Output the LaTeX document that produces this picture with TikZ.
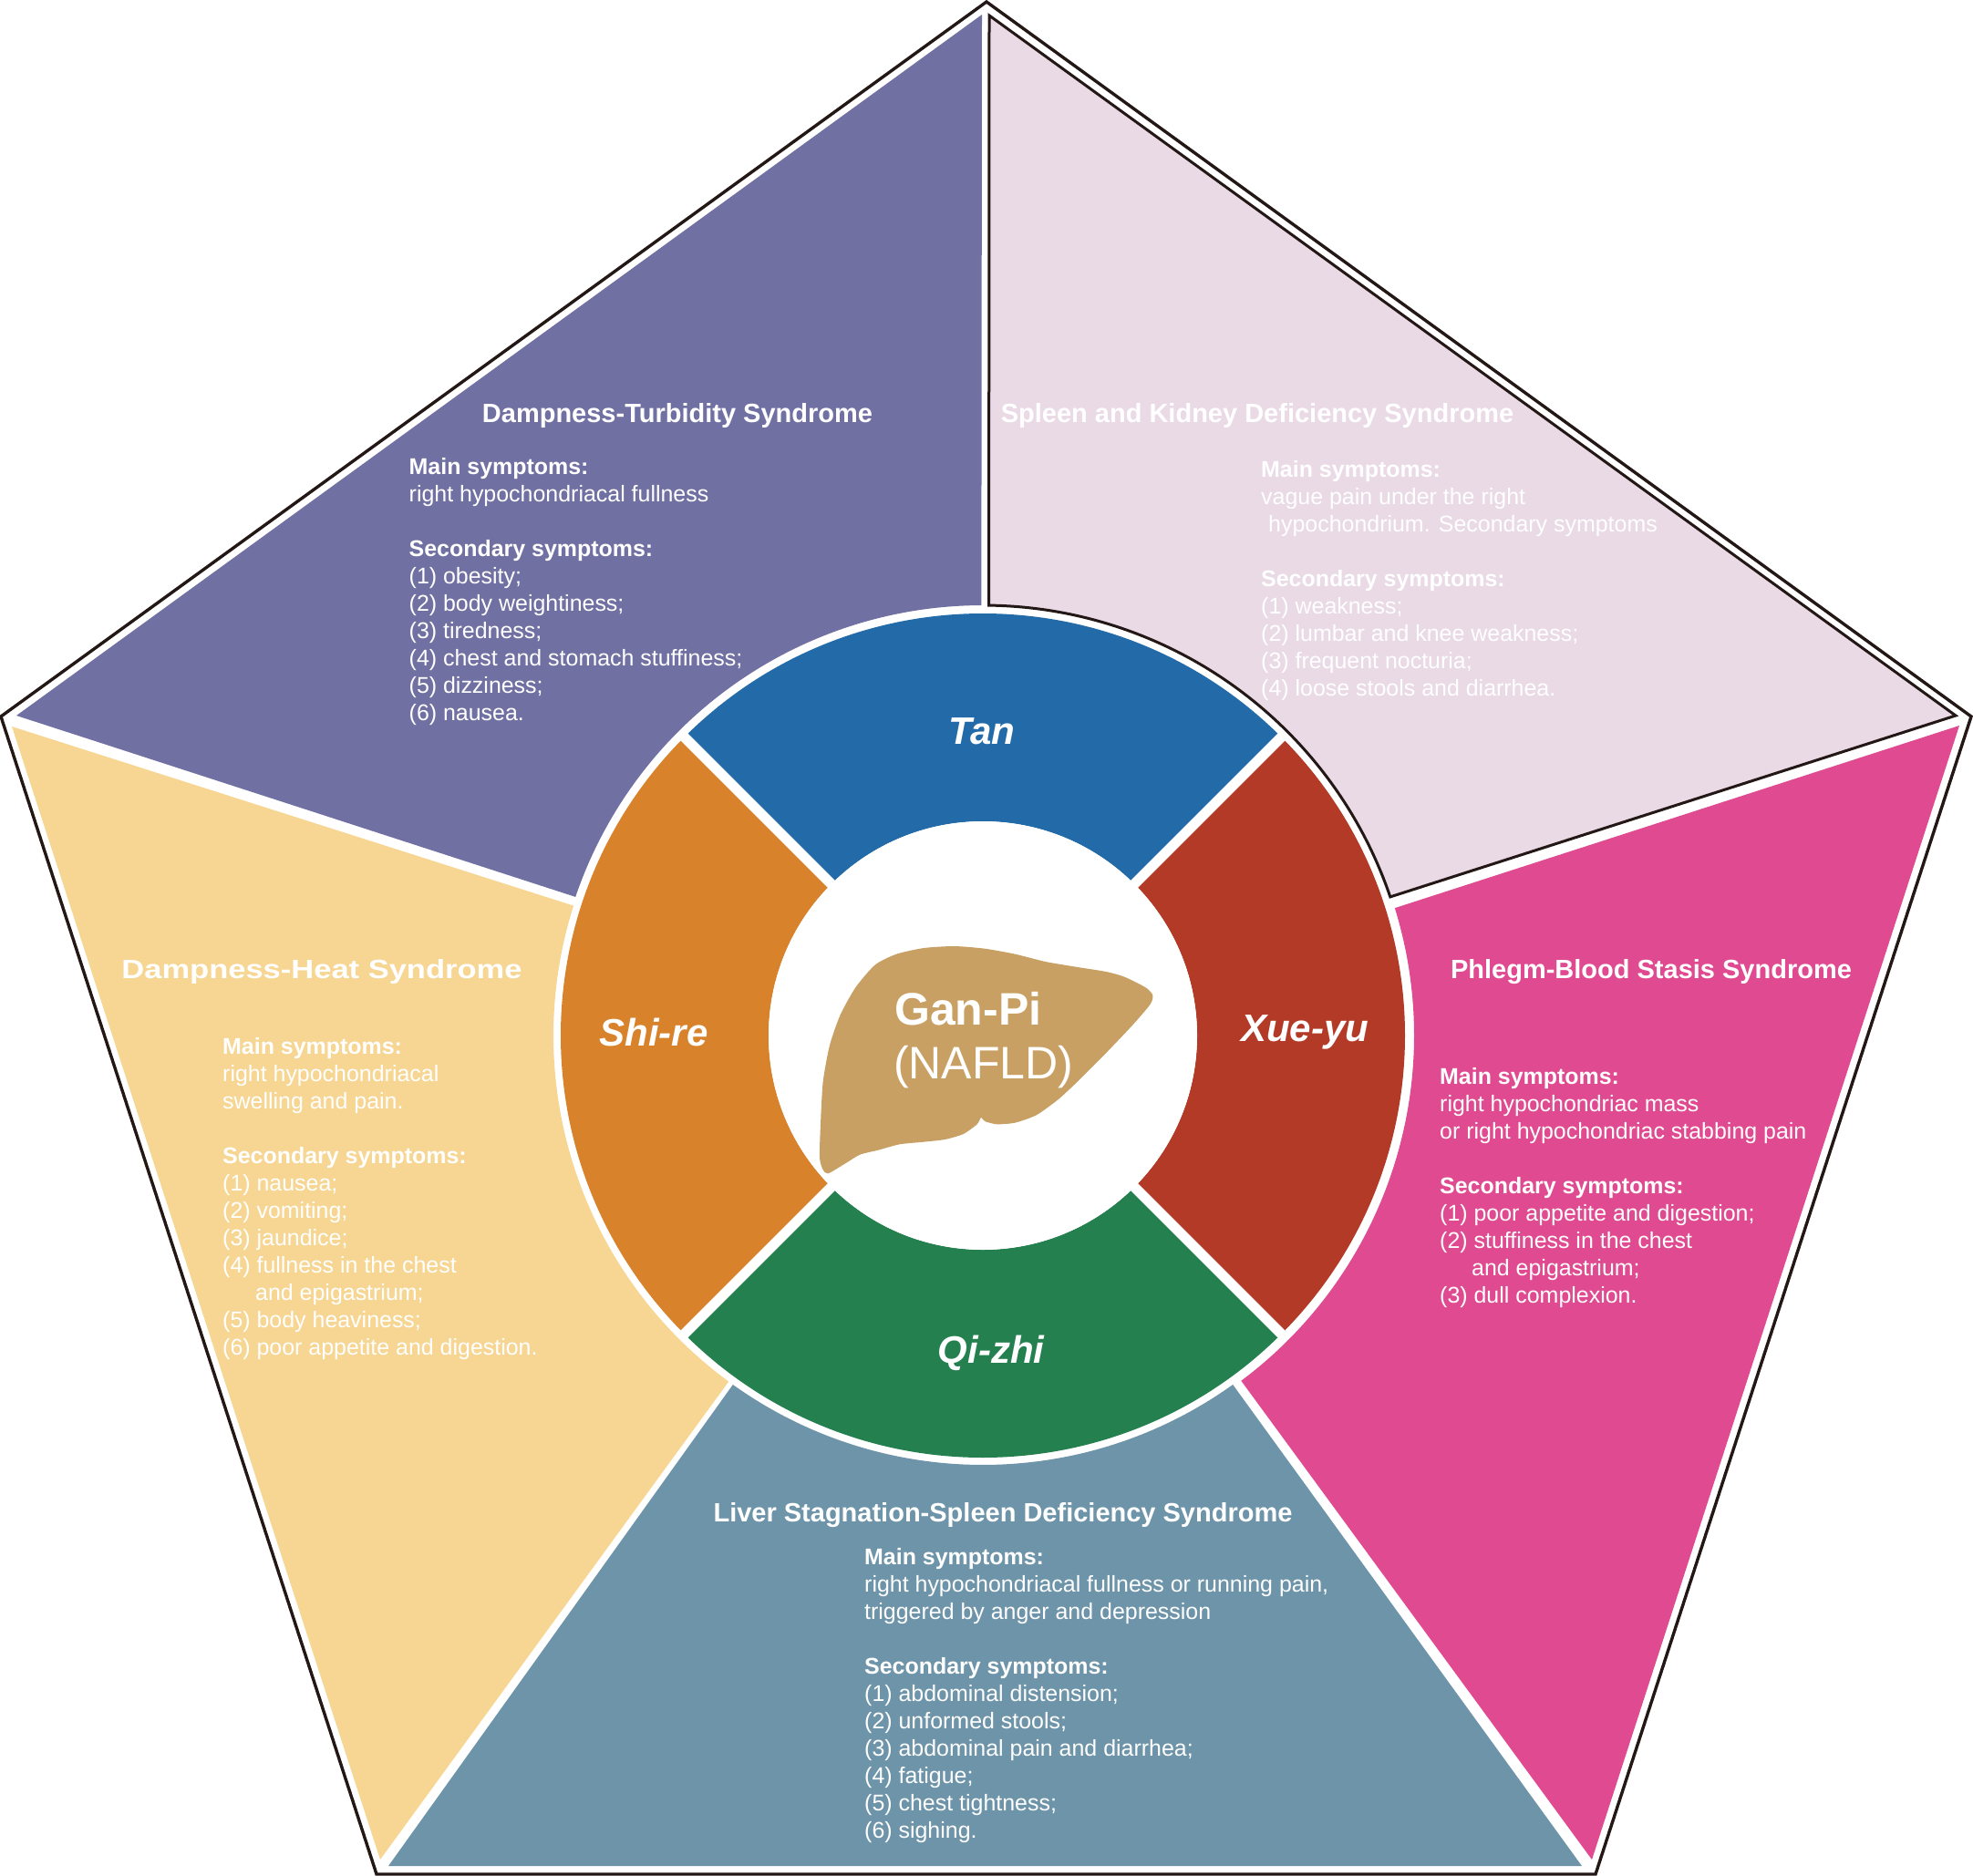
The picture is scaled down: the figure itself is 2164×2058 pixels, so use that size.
\documentclass[tikz,border=0pt]{standalone}
\usepackage{fontspec}
\setmainfont{Liberation Sans}
\usetikzlibrary{calc}
\definecolor{cpurple}{HTML}{7170A3}
\definecolor{cpale}{HTML}{E9DAE6}
\definecolor{cyellow}{HTML}{F6D692}
\definecolor{cpink}{HTML}{DF4A90}
\definecolor{csteel}{HTML}{6D94A9}
\definecolor{ctan}{HTML}{226BA8}
\definecolor{cred}{HTML}{B23A26}
\definecolor{cgreen}{HTML}{25804F}
\definecolor{corange}{HTML}{D8822B}
\definecolor{cliver}{HTML}{C8A063}
\definecolor{cink}{HTML}{231815}
\tikzset{
  outline/.style={draw=cink,line width=3.4pt,miter limit=20,line join=miter},
  gap/.style={white,line width=11pt},
  titletext/.style={text=white,inner sep=0pt,font=\fontsize{29}{30}\selectfont\bfseries},
  bodytext/.style={text=white,inner sep=0pt,anchor=north west,align=left,font=\fontsize{24.95}{30}\selectfont},
  ringtext/.style={text=white,inner sep=0pt,font=\fontsize{42}{44}\selectfont\bfseries\itshape},
  centertext/.style={text=white,inner sep=0pt,anchor=base west,font=\fontsize{50}{50}\selectfont}
}
\newcommand{\hd}[1]{\textbf{#1}}
\newcommand{\annul}[3]{\fill[#3] ($(1078,1136)+(#1:463)$) arc[start angle=#1,end angle=#2,radius=463] -- ($(1078,1136)+(#2:235)$) arc[start angle=#2,end angle=#1,radius=235] -- cycle;}
\begin{document}
\begin{tikzpicture}[x=1pt,y=-1pt]
\useasboundingbox (0,0) rectangle (2164,2058);
% outer pentagon
\draw[outline] (1082,2) -- (2162,786) -- (1750,2056) -- (413,2056) -- (1,786) -- cycle;
% panes
\fill[cpurple] (1077,16) -- (18,785) -- ($(1078,1136)+(198.8:472)$) arc[start angle=198.8,end angle=269.8,radius=472] -- cycle;
\fill[cyellow] (13,797) -- ($(1078,1136)+(197.6:471)$) arc[start angle=197.6,end angle=126.3,radius=471] -- (417,2040) -- cycle;
\fill[cpink] (2149,796) -- ($(1078,1136)+(-17.2:473)$) arc[start angle=-17.2,end angle=53.2,radius=473] -- (1746,2040) -- cycle;
\fill[csteel] (426,2047) -- ($(1078,1136)+(125.6:471)$) arc[start angle=125.6,end angle=54.4,radius=471] -- (1735,2047) -- cycle;
\draw[outline,line width=3pt,fill=cpale] (1085,17) -- (2145,785) -- ($(1078,1136)+(-18.8:472)$) arc[start angle=-18.8,end angle=-89.2,radius=472] -- cycle;
% ring
\annul{-135}{-45}{ctan}
\annul{-45}{45}{cred}
\annul{45}{135}{cgreen}
\annul{135}{225}{corange}
\draw[gap] ($(1078,1136)+(-45:466)$) coordinate (d1) -- ($(1078,1136)+(135:466)$) coordinate (d2);
\draw[gap] ($(1078,1136)+(45:466)$) coordinate (d3) -- ($(1078,1136)+(225:466)$) coordinate (d4);
\fill[white] (1078,1136) circle[radius=235];
% liver
\begin{scope}[xshift=880pt,yshift=-1020pt,x=0.3333pt,y=-0.3333pt]
\fill[cliver] plot[smooth cycle,tension=0.4] coordinates {(85,802)(68,790)(57,750)(60,640)(68,500)(90,380)(125,280)(175,190)(240,115)(310,80)(400,60)(500,54)(600,62)(700,80)(800,105)(900,122)(1000,138)(1060,155)(1130,190)(1153,215)(1145,245)(1090,310)(1000,405)(900,505)(840,560)(770,610)(700,635)(640,640)(600,630)(588,618)(575,640)(530,672)(470,690)(400,698)(320,706)(250,725)(190,740)(140,770)};
\end{scope}
% centre and ring labels
\node[centertext] (gan) at (981,1124) {\textbf{Gan-Pi}};
\node[centertext] (nafld) at (980,1183) {(NAFLD)};
\node[ringtext] (tan) at (1077,802) {Tan};
\node[ringtext] (shire) at (717,1132) {Shi-re};
\node[ringtext] (xueyu) at (1431,1132) {Xue-yu};
\node[ringtext] (qizhi) at (1087,1484) {Qi-zhi};
% purple pane
\node[titletext] (t1) at (743,456) {Dampness-Turbidity Syndrome};
\node[bodytext] (b1) at (448.5,502.5) {\hd{Main symptoms:}\\right hypochondriacal fullness\\[30pt]\hd{Secondary symptoms:}\\(1) obesity;\\(2) body weightiness;\\(3) tiredness;\\(4) chest and stomach stuffiness;\\(5) dizziness;\\(6) nausea.};
% pale pane
\node[titletext] (t2) at (1379,456) {Spleen and Kidney Deficiency Syndrome};
\node[bodytext] (b2) at (1383,505.5) {\hd{Main symptoms:}\\vague pain under the right\\\hspace*{8pt}hypochondrium. Secondary symptoms\\[30pt]\hd{Secondary symptoms:}\\(1) weakness;\\(2) lumbar and knee weakness;\\(3) frequent nocturia;\\(4) loose stools and diarrhea.};
% yellow pane
\node[titletext,xscale=1.19] (t3) at (353,1066) {Dampness-Heat Syndrome};
\node[bodytext] (b3) at (244,1138.5) {\hd{Main symptoms:}\\right hypochondriacal\\swelling and pain.\\[30pt]\hd{Secondary symptoms:}\\(1) nausea;\\(2) vomiting;\\(3) jaundice;\\(4) fullness in the chest\\\hspace*{36pt}and epigastrium;\\(5) body heaviness;\\(6) poor appetite and digestion.};
% pink pane
\node[titletext] (t4) at (1811,1066) {Phlegm-Blood Stasis Syndrome};
\node[bodytext] (b4) at (1579,1171.5) {\hd{Main symptoms:}\\right hypochondriac mass\\or right hypochondriac stabbing pain\\[30pt]\hd{Secondary symptoms:}\\(1) poor appetite and digestion;\\(2) stuffiness in the chest\\\hspace*{35pt}and epigastrium;\\(3) dull complexion.};
% steel pane
\node[titletext] (t5) at (1100,1662) {Liver Stagnation-Spleen Deficiency Syndrome};
\node[bodytext] (b5) at (948,1698.5) {\hd{Main symptoms:}\\right hypochondriacal fullness or running pain,\\triggered by anger and depression\\[30pt]\hd{Secondary symptoms:}\\(1) abdominal distension;\\(2) unformed stools;\\(3) abdominal pain and diarrhea;\\(4) fatigue;\\(5) chest tightness;\\(6) sighing.};
\end{tikzpicture}
\end{document}
